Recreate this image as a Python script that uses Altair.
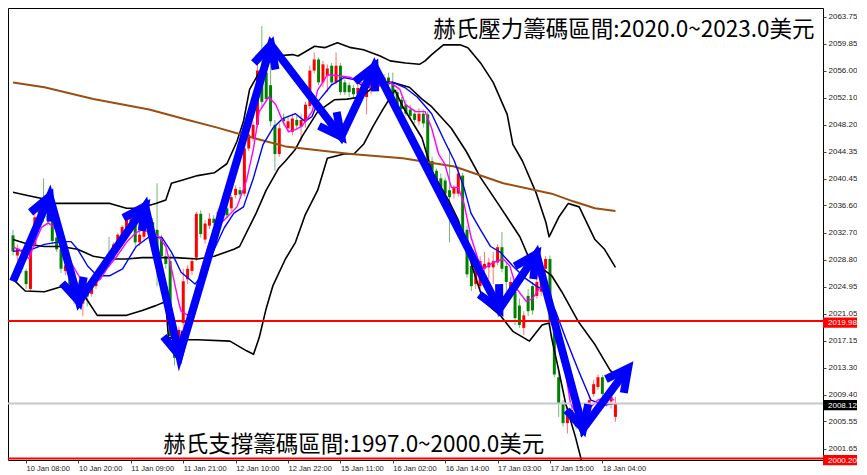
import math
import altair as alt
import pandas as pd

# ---------------- candle data (hourly bars, index 0..138) ----------------
opens = [2032.3, 2029.4, 2029.1, 2027.2, 2024.6, 2031.0, 2034.8, 2035.9, 2035.1, 2034.4,
         2032.0, 2030.3, 2027.2, 2028.0, 2024.6, 2023.5, 2022.5, 2024.2, 2023.9, 2025.0,
         2026.3, 2027.3, 2029.6, 2029.1, 2030.7, 2032.1, 2033.1, 2034.2, 2034.8, 2031.3,
         2032.1, 2033.8, 2034.2, 2033.1, 2031.7, 2029.3, 2028.6, 2017.8, 2014.4, 2019.7,
         2026.0, 2027.2, 2029.1, 2035.4, 2031.7, 2033.7, 2034.7, 2034.0, 2035.4, 2036.2,
         2036.2, 2038.1, 2038.8, 2038.3, 2044.8, 2046.3, 2048.2, 2056.0, 2055.7, 2053.9,
         2048.2, 2044.0, 2049.1, 2047.7, 2047.2, 2048.9, 2048.0, 2048.7, 2050.9, 2056.0,
         2057.6, 2054.3, 2055.3, 2056.7, 2054.3, 2056.7, 2054.3, 2053.9, 2053.5, 2052.6,
         2053.5, 2052.2, 2053.2, 2054.0, 2055.2, 2054.3, 2055.0, 2054.3, 2052.9, 2051.8,
         2051.1, 2050.4, 2049.8, 2048.7, 2049.8, 2049.7, 2043.0, 2041.6, 2040.5, 2040.2,
         2038.8, 2038.3, 2038.3, 2040.9, 2033.1, 2027.9, 2025.3, 2025.0, 2027.5, 2027.7,
         2027.7, 2028.4, 2030.6, 2027.9, 2024.2, 2024.2, 2022.2, 2019.0, 2023.6, 2025.0,
         2023.6, 2024.2, 2027.5, 2028.9, 2019.9, 2011.9, 2008.1, 2005.3, 2007.2, 2006.2,
         2005.5, 2004.4, 2007.7, 2009.5, 2010.5, 2011.9, 2008.1, 2008.4, 2006.2]
highs = [2033.1, 2031.0, 2029.6, 2027.5, 2031.0, 2035.7, 2036.6, 2040.5, 2035.7, 2034.8,
         2032.4, 2030.7, 2028.6, 2028.3, 2025.2, 2024.1, 2025.0, 2024.8, 2025.6, 2026.7,
         2027.7, 2028.6, 2032.1, 2031.3, 2032.7, 2033.8, 2034.8, 2035.7, 2035.2, 2032.8,
         2035.9, 2035.2, 2034.8, 2039.8, 2032.4, 2030.3, 2029.6, 2018.5, 2019.2, 2027.5,
         2028.0, 2029.1, 2035.7, 2035.9, 2034.5, 2035.5, 2035.2, 2036.2, 2036.6, 2036.6,
         2038.1, 2039.5, 2039.3, 2045.4, 2047.5, 2048.7, 2057.1, 2062.4, 2057.1, 2056.7,
         2048.9, 2048.4, 2049.8, 2049.5, 2049.8, 2049.5, 2049.7, 2051.5, 2056.7, 2058.6,
         2057.9, 2057.4, 2056.9, 2057.1, 2058.6, 2057.1, 2054.7, 2054.3, 2053.9, 2054.0,
         2053.9, 2053.8, 2054.7, 2056.0, 2055.7, 2055.5, 2055.7, 2055.7, 2053.3, 2052.2,
         2051.8, 2051.1, 2050.4, 2050.6, 2050.4, 2050.1, 2043.6, 2041.9, 2041.2, 2040.6,
         2044.8, 2039.5, 2041.9, 2041.3, 2033.7, 2028.4, 2028.6, 2029.3, 2029.9, 2029.1,
         2029.9, 2031.0, 2032.8, 2028.4, 2026.3, 2024.6, 2023.2, 2021.4, 2024.6, 2025.6,
         2026.3, 2028.2, 2029.3, 2029.4, 2020.4, 2012.5, 2008.6, 2007.7, 2007.9, 2006.9,
         2006.2, 2007.4, 2009.4, 2011.5, 2012.3, 2012.2, 2009.5, 2009.8, 2009.1]
lows = [2029.4, 2028.6, 2026.9, 2024.6, 2024.3, 2030.6, 2034.2, 2034.2, 2033.7, 2031.0,
        2029.9, 2026.9, 2026.6, 2023.9, 2022.4, 2021.8, 2020.7, 2022.1, 2023.5, 2024.6,
        2025.9, 2026.9, 2028.0, 2028.7, 2030.4, 2031.7, 2032.8, 2033.8, 2030.8, 2030.8,
        2031.7, 2032.4, 2031.7, 2025.0, 2028.9, 2027.5, 2016.8, 2013.6, 2013.9, 2018.1,
        2025.3, 2026.6, 2028.6, 2032.0, 2031.1, 2033.2, 2033.7, 2033.7, 2034.8, 2034.8,
        2035.8, 2037.6, 2037.8, 2037.9, 2044.4, 2045.8, 2047.8, 2050.8, 2051.5, 2048.0,
        2041.6, 2043.6, 2048.1, 2047.2, 2046.7, 2047.7, 2045.8, 2047.8, 2050.5, 2055.6,
        2053.9, 2053.6, 2052.9, 2053.9, 2054.0, 2052.5, 2052.5, 2052.2, 2052.1, 2051.5,
        2051.9, 2049.7, 2052.6, 2053.6, 2053.8, 2053.8, 2053.5, 2051.8, 2050.6, 2050.1,
        2049.5, 2048.9, 2048.4, 2048.1, 2047.8, 2041.6, 2040.2, 2039.6, 2038.8, 2037.9,
        2031.3, 2037.6, 2037.9, 2031.7, 2026.2, 2024.3, 2024.6, 2024.6, 2025.0, 2026.0,
        2025.3, 2028.0, 2027.0, 2024.2, 2023.8, 2019.4, 2019.0, 2018.0, 2020.7, 2020.9,
        2023.2, 2023.6, 2026.9, 2019.4, 2011.9, 2006.2, 2004.8, 2003.8, 2005.1, 2004.4,
        2003.4, 2004.0, 2007.2, 2009.1, 2010.1, 2009.1, 2007.7, 2007.4, 2005.5]
closes = [2030.0, 2030.4, 2027.5, 2025.3, 2030.7, 2034.9, 2035.9, 2034.8, 2034.4, 2031.5,
          2030.3, 2027.5, 2028.0, 2024.6, 2023.1, 2022.5, 2024.3, 2023.5, 2025.3, 2026.5,
          2027.5, 2028.2, 2028.6, 2031.0, 2032.4, 2033.5, 2034.5, 2035.2, 2031.3, 2032.4,
          2033.8, 2033.1, 2032.1, 2029.6, 2029.3, 2028.2, 2017.8, 2014.7, 2018.7, 2025.7,
          2027.5, 2028.6, 2035.4, 2032.5, 2034.0, 2034.7, 2034.1, 2035.7, 2036.1, 2035.2,
          2037.8, 2039.0, 2038.2, 2044.8, 2046.8, 2048.2, 2056.0, 2051.5, 2051.9, 2048.7,
          2044.0, 2047.7, 2048.7, 2048.7, 2049.1, 2048.1, 2048.9, 2051.1, 2056.0, 2057.6,
          2054.3, 2056.9, 2056.3, 2054.3, 2056.7, 2052.9, 2052.9, 2052.9, 2052.6, 2053.5,
          2052.6, 2053.2, 2054.3, 2055.5, 2054.3, 2055.0, 2054.0, 2052.1, 2051.1, 2050.5,
          2049.8, 2049.5, 2048.9, 2049.8, 2048.4, 2042.0, 2040.6, 2040.2, 2039.2, 2038.3,
          2037.8, 2039.2, 2041.2, 2032.1, 2026.7, 2025.0, 2027.7, 2028.6, 2028.2, 2028.4,
          2028.6, 2030.6, 2027.5, 2025.6, 2025.6, 2020.4, 2019.4, 2020.8, 2021.4, 2021.5,
          2025.6, 2027.5, 2028.9, 2019.9, 2012.3, 2008.1, 2005.3, 2007.2, 2005.9, 2004.8,
          2004.1, 2006.9, 2008.6, 2010.9, 2011.9, 2009.5, 2009.1, 2009.1, 2008.12]

# ---------------- indicator lines (bar position, price) ----------------
bb_upper_bar = [0, 2.8, 6.6, 9.5, 14.8, 18.4, 22.2, 26.0, 28.9, 32.7, 35.0, 36.3, 38.5, 42.3, 46.1,
                49.0, 51.3, 52.8, 54.2, 57.3, 60.2, 64.0, 65.3, 69.1, 71.4, 74.3, 77.4, 80.3, 84.1,
                86.4, 89.9, 93.1, 94.4, 95.9, 98.6, 102.4, 104.2, 107.1, 110.0, 113.2, 114.5, 116.7,
                119.9, 122.1, 122.8, 125.0, 127.2, 129.7, 133.3, 135.5, 138.0]
bb_upper_price = [2038.5, 2038.1, 2037.6, 2036.9, 2036.9, 2036.9, 2036.9, 2036.2, 2036.2, 2036.9,
                  2037.4, 2039.8, 2040.2, 2040.9, 2041.3, 2042.6, 2045.8, 2048.7, 2053.3, 2056.7,
                  2058.1, 2058.3, 2058.1, 2059.5, 2059.3, 2060.0, 2059.3, 2059.0, 2058.1, 2057.4,
                  2057.1, 2056.9, 2057.4, 2058.3, 2059.7, 2059.7, 2059.3, 2057.1, 2054.3, 2049.7,
                  2045.4, 2043.0, 2038.3, 2034.1, 2032.1, 2034.9, 2036.9, 2036.4, 2031.7, 2030.3,
                  2027.7]
bb_mid_bar = [0, 3.7, 7.2, 11.0, 14.8, 18.4, 22.2, 26.0, 29.6, 33.4, 37.2, 42.3, 46.1, 50.6, 51.9,
              55.7, 58.0, 60.9, 62.4, 64.7, 66.2, 69.8, 73.6, 76.5, 79.6, 81.9, 84.1, 87.0, 90.8,
              93.7, 95.9, 100.4, 103.8, 107.1, 111.6, 116.1, 118.3, 123.4, 125.7, 129.5, 133.3,
              136.8, 138.0]
bb_mid_price = [2031.7, 2031.0, 2030.7, 2030.7, 2030.3, 2029.3, 2028.9, 2028.9, 2029.1, 2029.1,
                2029.1, 2028.9, 2029.3, 2030.3, 2030.7, 2035.5, 2038.8, 2042.0, 2043.0, 2044.7,
                2046.5, 2050.1, 2051.8, 2051.9, 2052.2, 2053.3, 2054.3, 2054.3, 2053.6, 2051.9,
                2050.8, 2047.7, 2044.4, 2040.6, 2036.4, 2032.1, 2028.9, 2026.5, 2024.2, 2019.9,
                2016.6, 2012.9, 2012.2]
bb_lower_bar = [0, 2.8, 7.2, 11.0, 14.8, 17.1, 19.3, 22.2, 26.0, 29.6, 32.7, 35.0, 35.6, 38.5, 42.3,
                49.7, 53.5, 55.1, 56.4, 58.0, 59.5, 62.4, 64.7, 66.9, 69.8, 72.0, 75.8, 78.1, 80.3,
                82.5, 84.8, 87.5, 89.3, 93.7, 95.9, 99.8, 102.0, 104.2, 105.6, 107.8, 111.6, 114.5,
                118.3, 121.2, 122.8, 123.4, 125.0, 126.6, 128.8, 131.7]
bb_lower_price = [2026.0, 2024.3, 2024.2, 2024.9, 2025.0, 2022.9, 2020.8, 2020.8, 2020.8, 2021.5,
                  2022.2, 2022.8, 2017.6, 2017.3, 2017.3, 2017.1, 2015.7, 2015.2, 2017.6, 2021.8,
                  2025.0, 2028.9, 2031.3, 2035.2, 2038.8, 2043.4, 2044.0, 2044.0, 2045.4, 2048.0,
                  2050.5, 2053.2, 2050.8, 2046.3, 2041.6, 2037.3, 2034.5, 2029.9, 2027.0, 2022.8,
                  2020.8, 2018.5, 2017.1, 2019.4, 2019.7, 2017.5, 2012.9, 2008.1, 2003.4, 1996.3]
ma_blue_bar = [0, 4.3, 7.2, 11.0, 13.3, 14.8, 17.1, 19.3, 22.2, 25.1, 28.2, 31.2, 34.1, 36.3, 38.5,
               41.7, 43.4, 46.1, 48.4, 50.6, 52.8, 55.1, 57.3, 59.5, 61.8, 64.7, 66.9, 68.5, 69.8,
               72.9, 75.8, 78.1, 79.6, 81.9, 84.8, 87.0, 89.9, 92.6, 95.9, 98.9, 101.1, 103.3,
               104.9, 107.1, 109.4, 111.6, 114.5, 117.6, 119.9, 122.1, 124.3, 126.6, 129.5, 132.4,
               135.5, 137.7]
ma_blue_price = [2030.0, 2030.3, 2031.0, 2031.4, 2031.4, 2030.3, 2027.9, 2026.5, 2026.5, 2027.5,
                 2030.7, 2032.1, 2032.0, 2029.9, 2027.0, 2025.3, 2026.7, 2030.3, 2033.4, 2035.5,
                 2036.4, 2040.6, 2045.4, 2047.7, 2049.1, 2049.8, 2048.7, 2049.4, 2051.5, 2053.9,
                 2055.0, 2054.7, 2054.0, 2053.6, 2054.0, 2054.3, 2053.5, 2052.2, 2049.8, 2045.8,
                 2043.0, 2039.2, 2035.5, 2033.1, 2030.7, 2029.9, 2027.9, 2026.0, 2025.0, 2024.2,
                 2021.4, 2017.5, 2012.9, 2008.6, 2007.9, 2008.1]
ma_pink_bar = [0, 1.4, 3.7, 5.0, 6.6, 8.1, 9.5, 11.0, 13.3, 15.5, 17.7, 20.0, 21.5, 23.8, 26.0,
               28.2, 29.6, 31.8, 33.4, 35.0, 36.3, 37.9, 38.5, 40.1, 41.7, 43.0, 44.6, 46.1, 49.0,
               51.3, 53.5, 55.1, 56.4, 58.6, 60.2, 61.8, 63.1, 64.7, 66.2, 68.5, 69.8, 72.0, 74.3,
               77.4, 79.6, 81.9, 84.8, 86.4, 88.6, 89.9, 92.2, 94.4, 95.9, 97.5, 98.9, 100.4,
               102.0, 103.3, 104.9, 106.5, 107.8, 110.0, 112.3, 113.8, 115.4, 117.6, 119.0, 120.5,
               122.1, 123.4, 125.7, 127.7, 129.5, 131.7, 133.9, 136.2, 137.7]
ma_pink_price = [2030.6, 2030.3, 2028.9, 2031.3, 2033.5, 2034.1, 2033.4, 2032.1, 2028.4, 2026.0,
                 2025.0, 2026.0, 2027.5, 2029.3, 2031.3, 2032.7, 2033.1, 2032.7, 2032.1, 2030.7,
                 2027.5, 2022.8, 2021.4, 2020.8, 2022.8, 2027.2, 2030.6, 2033.1, 2034.9, 2036.4,
                 2040.2, 2044.8, 2050.1, 2052.2, 2051.1, 2048.7, 2047.2, 2047.5, 2048.0, 2050.1,
                 2053.2, 2055.4, 2055.3, 2055.0, 2054.3, 2053.6, 2053.9, 2054.3, 2053.3, 2051.1,
                 2050.1, 2050.1, 2047.7, 2044.0, 2042.6, 2039.2, 2039.2, 2036.9, 2032.1, 2028.9,
                 2027.5, 2028.4, 2028.9, 2027.9, 2024.6, 2022.8, 2023.2, 2024.6, 2025.0, 2022.2,
                 2016.1, 2008.1, 2006.2, 2007.2, 2008.6, 2009.1, 2008.6]
ma_brown_bar = [0, 7.2, 18.4, 31.2, 40.1, 46.8, 55.1, 62.4, 77.4, 89.3, 101.1, 112.3, 123.4,
                128.3, 133.3, 138.0]
ma_brown_price = [2054.3, 2053.6, 2051.9, 2050.4, 2048.9, 2047.8, 2046.3, 2045.1, 2044.0, 2043.4,
                  2042.2, 2039.8, 2038.3, 2037.2, 2036.2, 2035.8]

# ---------------- hand-drawn blue arrows (vertices) ----------------
arrow_bar = [0.0, 8.4, 15.1, 30.3, 38.1, 59.1, 75.2, 82.8, 111.4, 119.9, 130.6, 140.9]
arrow_price = [2025.7, 2037.9, 2022.8, 2036.5, 2015.0, 2059.7, 2046.5, 2056.6, 2021.7, 2029.6,
               2004.5, 2013.2]

# ---------------- horizontal levels ----------------
red_levels = [2019.98, 2000.20]
bid_levels = [2008.12]

# ---------------- axes ----------------
y_ticks = [2063.75, 2059.85, 2056.00, 2052.10, 2048.20, 2044.35, 2040.45, 2036.60, 2032.70,
           2028.80, 2024.95, 2021.05, 2017.15, 2013.30, 2009.40, 2005.55, 2001.65]
x_tick_bars = [3, 15, 27, 39, 51, 63, 75, 87, 99, 111, 123, 135]
x_tick_labels = ['10 Jan 08:00', '10 Jan 20:00', '11 Jan 09:00', '11 Jan 21:00', '12 Jan 10:00',
                 '12 Jan 22:00', '15 Jan 11:00', '16 Jan 02:00', '16 Jan 14:00', '17 Jan 03:00',
                 '17 Jan 15:00', '18 Jan 04:00']

text_top = '赫氏壓力籌碼區間:2020.0~2023.0美元'
text_bottom = '赫氏支撐籌碼區間:1997.0~2000.0美元'
text_top_pos = (183.6, 2061.9)
text_bottom_pos = (34.4, 2002.2)

# ---------------- chart ----------------
W, H = 815, 452
X_DOM = [0, 184.4]
Y_DOM = [2000.0, 2065.0]
xs = alt.Scale(domain=X_DOM, nice=False, zero=False)
ys = alt.Scale(domain=Y_DOM, nice=False, zero=False)

label_expr = ''.join(f"datum.value == {b} ? '{l}' : " for b, l in zip(x_tick_bars, x_tick_labels)) + "''"
x_axis = alt.Axis(values=x_tick_bars, labelExpr=label_expr, title=None, grid=False, domain=False,
                  tickSize=3, tickColor='#444444', labelAlign='left', labelFont='Liberation Sans',
                  labelFontSize=7.5, labelColor='#222222', labelPadding=1, labelOverlap=False,
                  labelFlush=False, labelBound=False)
y_axis = alt.Axis(orient='right', values=y_ticks, format='.2f', title=None, grid=False,
                  domain=False, tickSize=3, tickColor='#444444', labelFont='Liberation Sans',
                  labelFontSize=8, labelColor='#222222', labelPadding=2, labelOverlap=False,
                  labelFlush=False)


def X(field):
    return alt.X(field, scale=xs, axis=x_axis)


def Y(field):
    return alt.Y(field, scale=ys, axis=y_axis)


candles = pd.DataFrame({'bar': list(range(len(opens))), 'open': opens, 'high': highs,
                        'low': lows, 'close': closes})
candles['dir'] = ['up' if c >= o else 'down' for o, c in zip(opens, closes)]
dir_color = alt.Color('dir:N', scale=alt.Scale(domain=['up', 'down'], range=['#ff0000', '#008000']),
                      legend=None)

wicks = alt.Chart(candles).mark_rule(strokeWidth=1, opacity=0.55, clip=True).encode(
    x=X('bar:Q'), y=Y('low:Q'), y2='high:Q', color=dir_color)
bodies = alt.Chart(candles).mark_bar(size=3, clip=True).encode(
    x=X('bar:Q'), y=Y('open:Q'), y2='close:Q', color=dir_color)


def line_layer(bars, prices, color, width):
    df = pd.DataFrame({'bar': bars, 'price': prices})
    return alt.Chart(df).mark_line(color=color, strokeWidth=width, clip=True,
                                   strokeJoin='round').encode(
        x=X('bar:Q'), y=Y('price:Q'), order='bar:Q')


bb_u = line_layer(bb_upper_bar, bb_upper_price, '#000000', 1.6)
bb_m = line_layer(bb_mid_bar, bb_mid_price, '#000000', 1.6)
bb_l = line_layer(bb_lower_bar, bb_lower_price, '#000000', 1.6)
brown = line_layer(ma_brown_bar, ma_brown_price, '#9a4e12', 2)
blue = line_layer(ma_blue_bar, ma_blue_price, '#0000ff', 1.4)
pink = line_layer(ma_pink_bar, ma_pink_price, '#ff00ff', 1.4)


def hline_layer(vals, color):
    df = pd.DataFrame({'price': vals})
    return alt.Chart(df).mark_rule(color=color, strokeWidth=2, clip=True).encode(y=Y('price:Q'))


red_lines = hline_layer(red_levels, '#ff0000')
bid_lines = hline_layer(bid_levels, '#c4c8d2')

# arrows: shaft polyline plus chevron heads computed in pixel space
sx = W / (X_DOM[1] - X_DOM[0])
sy = H / (Y_DOM[1] - Y_DOM[0])
HEAD_LEN = 25.0
HEAD_ANG = math.radians(27)
shaft_df = pd.DataFrame({'bar': arrow_bar, 'price': arrow_price,
                         'o': list(range(len(arrow_bar)))})
head_rows = []
for k in range(1, len(arrow_bar)):
    x0, y0 = arrow_bar[k - 1] * sx, arrow_price[k - 1] * sy
    x1, y1 = arrow_bar[k] * sx, arrow_price[k] * sy
    dx, dy = x1 - x0, y1 - y0
    n = math.hypot(dx, dy)
    ux, uy = dx / n, dy / n
    for j, a in enumerate((HEAD_ANG, None, -HEAD_ANG)):
        if a is None:
            px, py = x1, y1
        else:
            rx = -ux * math.cos(a) + uy * math.sin(a)
            ry = -ux * math.sin(a) - uy * math.cos(a)
            px, py = x1 + HEAD_LEN * rx, y1 + HEAD_LEN * ry
        head_rows.append({'seg': k, 'o': j, 'bar': px / sx, 'price': py / sy})
head_df = pd.DataFrame(head_rows)

ARROW_BLUE = '#0000ff'
shaft = alt.Chart(shaft_df).mark_line(color=ARROW_BLUE, strokeWidth=8, strokeJoin='miter',
                                      strokeCap='butt', clip=True).encode(
    x=X('bar:Q'), y=Y('price:Q'), order='o:Q')
heads = alt.Chart(head_df).mark_line(color=ARROW_BLUE, strokeWidth=8, strokeJoin='miter',
                                     strokeCap='butt', clip=True).encode(
    x=X('bar:Q'), y=Y('price:Q'), detail='seg:N', order='o:Q')

# annotation texts
top_df = pd.DataFrame({'bar': [text_top_pos[0]], 'price': [text_top_pos[1]], 'text': [text_top]})
bot_df = pd.DataFrame({'bar': [text_bottom_pos[0]], 'price': [text_bottom_pos[1]],
                       'text': [text_bottom]})
top_text = alt.Chart(top_df).mark_text(align='right', baseline='middle', font='Noto Sans CJK TC',
                                       fontSize=22.5, color='#000000').encode(
    x=X('bar:Q'), y=Y('price:Q'), text='text:N')
bot_text = alt.Chart(bot_df).mark_text(align='left', baseline='middle', font='Noto Sans CJK TC',
                                       fontSize=22.5, color='#000000').encode(
    x=X('bar:Q'), y=Y('price:Q'), text='text:N')


# price tags on the right axis
def tag_layer(vals, fill):
    df = pd.DataFrame({'price': vals, 'label': [f'{v:.2f}' for v in vals]})
    box = alt.Chart(df).mark_point(shape='M-1,-0.3L1,-0.3L1,0.3L-1,0.3Z', filled=True,
                                   size=34 * 34, color=fill, opacity=1, strokeWidth=0,
                                   yOffset=1.5).encode(
        x=alt.value(W + 17), y=Y('price:Q'))
    txt = alt.Chart(df).mark_text(align='left', baseline='middle', font='Liberation Sans',
                                  fontSize=8, dy=2, color='#ffffff').encode(
        x=alt.value(W + 5), y=Y('price:Q'), text='label:N')
    return box + txt


red_tags = tag_layer(red_levels, '#ff0000')
bid_tags = tag_layer(bid_levels, '#000000')

chart = alt.layer(
    wicks, bodies, bb_u, bb_m, bb_l, brown, blue, pink, bid_lines, red_lines,
    shaft, heads, top_text, bot_text, red_tags, bid_tags,
).properties(width=W, height=H, padding=0, background='#ffffff').configure_view(
    stroke='#000000', strokeWidth=1)

chart.save("out.html", embed_options={"renderer": "svg", "actions": False})
